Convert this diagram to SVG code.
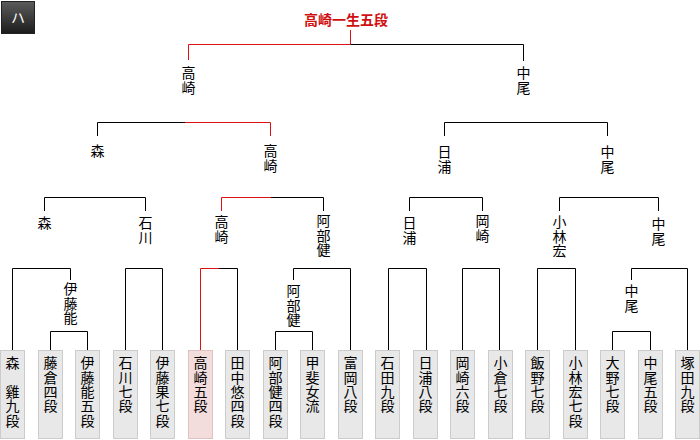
<svg xmlns="http://www.w3.org/2000/svg" width="700" height="440" viewBox="0 0 700 440">
<style>
.ln{fill:none;stroke:#000;stroke-width:1}
.rd{fill:none;stroke:#dd1111;stroke-width:1}
.lbl{font-family:"Noto Sans CJK JP","Noto Sans CJK SC",sans-serif;font-size:14px;fill:#000;writing-mode:vertical-rl;text-orientation:upright;letter-spacing:0.3px}
.box{fill:#e8e8e8;stroke:#cccccc;stroke-width:1}
.win{fill:#f3dcdc;stroke:#e0c0c0;stroke-width:1}
.title{font-family:"Noto Sans CJK JP","Noto Sans CJK SC",sans-serif;font-size:14px;font-weight:bold;fill:#d01010}
</style>
<defs>
<linearGradient id="hg" x1="0" y1="0" x2="0" y2="1">
<stop offset="0" stop-color="#5c5c5c"/>
<stop offset="1" stop-color="#1c1c1c"/>
</linearGradient>
</defs>
<rect width="700" height="440" fill="#fff"/>
<g id="header">
<rect x="1.5" y="1.5" width="33" height="32" fill="url(#hg)" stroke="#222"/>
<text x="18" y="23" text-anchor="middle" font-family="Noto Sans CJK JP, sans-serif" font-size="14" fill="#fff">ハ</text>
</g>
<g id="title"><text class="title" x="346" y="25" text-anchor="middle">高崎一生五段</text></g>
<g id="connectors">
<path class="rd" d="M188.5,60 V44.5 H350.5 M350.5,30 V44.5"/>
<path class="ln" d="M350.5,44.5 H523.5 V61"/>
<path class="ln" d="M97.5,136 V122.5 H185"/>
<path class="rd" d="M185,122.5 H270.5 V136"/>
<path class="ln" d="M444.5,136 V122.5 H607.5 V136"/>
<path class="ln" d="M44.5,211 V197.5 H145.5 V211"/>
<path class="rd" d="M221.5,211 V197.5 H271"/>
<path class="ln" d="M271,197.5 H323.5 V211"/>
<path class="ln" d="M409.5,211 V197.5 H482.5 V211"/>
<path class="ln" d="M559.5,211 V197.5 H658.5 V211"/>
<path class="ln" d="M12.5,350 V268.5 H70.5 V280"/>
<path class="ln" d="M50.5,350 V331.5 H87.5 V350"/>
<path class="ln" d="M125.5,350 V268.5 H162.5 V350"/>
<path class="rd" d="M200.5,350 V268.5 H219"/>
<path class="ln" d="M219,268.5 H237.5 V350"/>
<path class="ln" d="M293.5,280 V268.5 H350.5 V350"/>
<path class="ln" d="M275.5,350 V331.5 H312.5 V350"/>
<path class="ln" d="M388.5,350 V268.5 H426.5 V350"/>
<path class="ln" d="M462.5,350 V268.5 H499.5 V350"/>
<path class="ln" d="M537.5,350 V268.5 H575.5 V350"/>
<path class="ln" d="M631.5,280 V268.5 H687.5 V350"/>
<path class="ln" d="M612.5,350 V331.5 H650.5 V350"/>
</g>
<g id="labels">
<g id="l1a"><text class="lbl" x="188.5" y="66">高崎</text></g>
<g id="l1b"><text class="lbl" x="523.5" y="66">中尾</text></g>
<g id="l2a"><text class="lbl" x="97.5" y="144">森</text></g>
<g id="l2b"><text class="lbl" x="270.5" y="144">高崎</text></g>
<g id="l2c"><text class="lbl" x="444.5" y="145">日浦</text></g>
<g id="l2d"><text class="lbl" x="607.5" y="145">中尾</text></g>
<g id="l3a"><text class="lbl" x="44.5" y="216">森</text></g>
<g id="l3b"><text class="lbl" x="145.5" y="216">石川</text></g>
<g id="l3c"><text class="lbl" x="221.5" y="215">高崎</text></g>
<g id="l3d"><text class="lbl" x="323.5" y="214">阿部健</text></g>
<g id="l3e"><text class="lbl" x="409.5" y="216">日浦</text></g>
<g id="l3f"><text class="lbl" x="482.5" y="214">岡崎</text></g>
<g id="l3g"><text class="lbl" x="559.5" y="215">小林宏</text></g>
<g id="l3h"><text class="lbl" x="658.5" y="217">中尾</text></g>
<g id="l4a"><text class="lbl" x="70.5" y="282">伊藤能</text></g>
<g id="l4b"><text class="lbl" x="293.5" y="284">阿部健</text></g>
<g id="l4c"><text class="lbl" x="631.5" y="284">中尾</text></g>
</g>
<g id="players">
<g id="p1"><rect class="box" x="0.5" y="350.5" width="24" height="88"/><text class="lbl" x="12.5" y="356">森　雞九段</text></g>
<g id="p2"><rect class="box" x="38.5" y="350.5" width="24" height="88"/><text class="lbl" x="50.5" y="356">藤倉四段</text></g>
<g id="p3"><rect class="box" x="75.5" y="350.5" width="24" height="88"/><text class="lbl" x="87.5" y="356">伊藤能五段</text></g>
<g id="p4"><rect class="box" x="113.5" y="350.5" width="24" height="88"/><text class="lbl" x="125.5" y="356">石川七段</text></g>
<g id="p5"><rect class="box" x="150.5" y="350.5" width="24" height="88"/><text class="lbl" x="162.5" y="356">伊藤果七段</text></g>
<g id="p6"><rect class="win" x="188.5" y="350.5" width="24" height="88"/><text class="lbl" x="200.5" y="356">高崎五段</text></g>
<g id="p7"><rect class="box" x="225.5" y="350.5" width="24" height="88"/><text class="lbl" x="237.5" y="356">田中悠四段</text></g>
<g id="p8"><rect class="box" x="263.5" y="350.5" width="24" height="88"/><text class="lbl" x="275.5" y="356">阿部健四段</text></g>
<g id="p9"><rect class="box" x="300.5" y="350.5" width="24" height="88"/><text class="lbl" x="312.5" y="356">甲斐女流</text></g>
<g id="p10"><rect class="box" x="338.5" y="350.5" width="24" height="88"/><text class="lbl" x="350.5" y="356">富岡八段</text></g>
<g id="p11"><rect class="box" x="375.5" y="350.5" width="24" height="88"/><text class="lbl" x="387.5" y="356">石田九段</text></g>
<g id="p12"><rect class="box" x="413.5" y="350.5" width="24" height="88"/><text class="lbl" x="425.5" y="356">日浦八段</text></g>
<g id="p13"><rect class="box" x="450.5" y="350.5" width="24" height="88"/><text class="lbl" x="462.5" y="356">岡崎六段</text></g>
<g id="p14"><rect class="box" x="488.5" y="350.5" width="24" height="88"/><text class="lbl" x="500.5" y="356">小倉七段</text></g>
<g id="p15"><rect class="box" x="525.5" y="350.5" width="24" height="88"/><text class="lbl" x="537.5" y="356">飯野七段</text></g>
<g id="p16"><rect class="box" x="563.5" y="350.5" width="24" height="88"/><text class="lbl" x="575.5" y="356">小林宏七段</text></g>
<g id="p17"><rect class="box" x="600.5" y="350.5" width="24" height="88"/><text class="lbl" x="612.5" y="356">大野七段</text></g>
<g id="p18"><rect class="box" x="638.5" y="350.5" width="24" height="88"/><text class="lbl" x="650.5" y="356">中尾五段</text></g>
<g id="p19"><rect class="box" x="675.5" y="350.5" width="24" height="88"/><text class="lbl" x="687.5" y="356">塚田九段</text></g>
</g>
</svg>
